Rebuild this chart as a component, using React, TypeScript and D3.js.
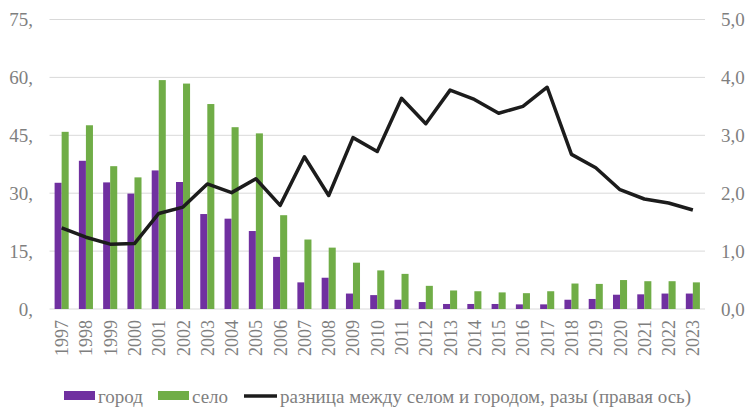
import React from 'react';
import * as d3 from 'd3';

const years = [
  '1997', '1998', '1999', '2000', '2001', '2002', '2003', '2004', '2005', '2006',
  '2007', '2008', '2009', '2010', '2011', '2012', '2013', '2014', '2015', '2016',
  '2017', '2018', '2019', '2020', '2021', '2022', '2023',
];

// город
const city = [
  32.7, 38.4, 32.8, 29.9, 35.9, 32.9, 24.6, 23.4, 20.2, 13.5,
  6.9, 8.1, 4.0, 3.6, 2.4, 1.8, 1.3, 1.3, 1.3, 1.2,
  1.2, 2.4, 2.6, 3.7, 3.8, 4.0, 4.0,
];

// село
const village = [
  45.9, 47.6, 37.0, 34.1, 59.3, 58.4, 53.1, 47.1, 45.5, 24.3,
  18.0, 15.9, 12.0, 10.0, 9.1, 6.0, 4.8, 4.6, 4.3, 4.1,
  4.6, 6.6, 6.5, 7.5, 7.2, 7.2, 6.9,
];

// разница, разы (правая ось)
const ratio = [
  1.40, 1.24, 1.12, 1.13, 1.65, 1.76, 2.16, 2.01, 2.25, 1.79,
  2.63, 1.96, 2.96, 2.72, 3.64, 3.20, 3.78, 3.62, 3.38, 3.50,
  3.83, 2.67, 2.44, 2.06, 1.90, 1.83, 1.71,
];

const leftTicks = [0, 15, 30, 45, 60, 75];
const rightTicks = [0, 1, 2, 3, 4, 5];

const W = 748;
const H = 407;
const margin = { top: 19.5, right: 43, bottom: 98, left: 49.5 };
const font = '"Liberation Serif", "Times New Roman", serif';
const purple = '#7030A0';
const green = '#70AD47';
const lineColor = '#1c1c1c';
const textColor = '#7f7f7f';

export default function App() {
  const x = d3.scaleBand<string>()
    .domain(years)
    .range([margin.left, W - margin.right])
    .paddingInner(0.42)
    .paddingOuter(0.21);
  const x1 = d3.scaleBand<string>()
    .domain(['city', 'village'])
    .range([0, x.bandwidth()]);
  const yL = d3.scaleLinear().domain([0, 75]).range([H - margin.bottom, margin.top]);
  const yR = d3.scaleLinear().domain([0, 5]).range([H - margin.bottom, margin.top]);
  const cx = (d: string) => (x(d) as number) + x.bandwidth() / 2;

  const line = d3.line<number>()
    .x((_, i) => cx(years[i]))
    .y(d => yR(d));

  return (
    <svg width={W} height={H} style={{ position: 'absolute', left: 0, top: 0, background: '#fff' }}>
      {/* gridlines */}
      {leftTicks.map(t => (
        <line key={t} x1={margin.left} x2={W - margin.right} y1={yL(t)} y2={yL(t)}
          stroke="#d9d9d9" strokeWidth={1} />
      ))}

      {/* left axis labels */}
      {leftTicks.map(t => (
        <text key={'l' + t} x={33} y={yL(t)} dy="0.36em" textAnchor="end"
          fontFamily={font} fontSize={19} fill={textColor}>{t + ','}</text>
      ))}

      {/* right axis labels */}
      {rightTicks.map(t => (
        <text key={'r' + t} x={721} y={yR(t)} dy="0.36em" textAnchor="start"
          fontFamily={font} fontSize={19} fill={textColor}>{d3.format('.1f')(t).replace('.', ',')}</text>
      ))}

      {/* bars */}
      {years.map((yr, i) => (
        <g key={yr} transform={`translate(${x(yr)},0)`}>
          <rect x={x1('city')} width={x1.bandwidth()} y={yL(city[i])}
            height={yL(0) - yL(city[i])} fill={purple} />
          <rect x={x1('village')} width={x1.bandwidth()} y={yL(village[i])}
            height={yL(0) - yL(village[i])} fill={green} />
        </g>
      ))}

      {/* ratio line */}
      <path d={line(ratio) || ''} fill="none" stroke={lineColor} strokeWidth={3.5}
        strokeLinejoin="round" />

      {/* x labels */}
      {years.map(yr => (
        <text key={'x' + yr} transform={`translate(${cx(yr)},320) rotate(-90)`}
          textAnchor="end" dy="0.36em" fontFamily={font} fontSize={18} fill={textColor}>{yr}</text>
      ))}

      {/* legend */}
      <g fontFamily={font} fontSize={19} fill={textColor}>
        <rect x={64} y={391} width={31} height={9} fill={purple} />
        <text x={98} y={396} dy="0.36em">город</text>
        <rect x={158} y={391} width={31} height={9} fill={green} />
        <text x={192} y={396} dy="0.36em">село</text>
        <line x1={244} x2={277} y1={396} y2={396} stroke={lineColor} strokeWidth={3.5} />
        <text x={280} y={396} dy="0.36em">разница между селом и городом, разы (правая ось)</text>
      </g>
    </svg>
  );
}
